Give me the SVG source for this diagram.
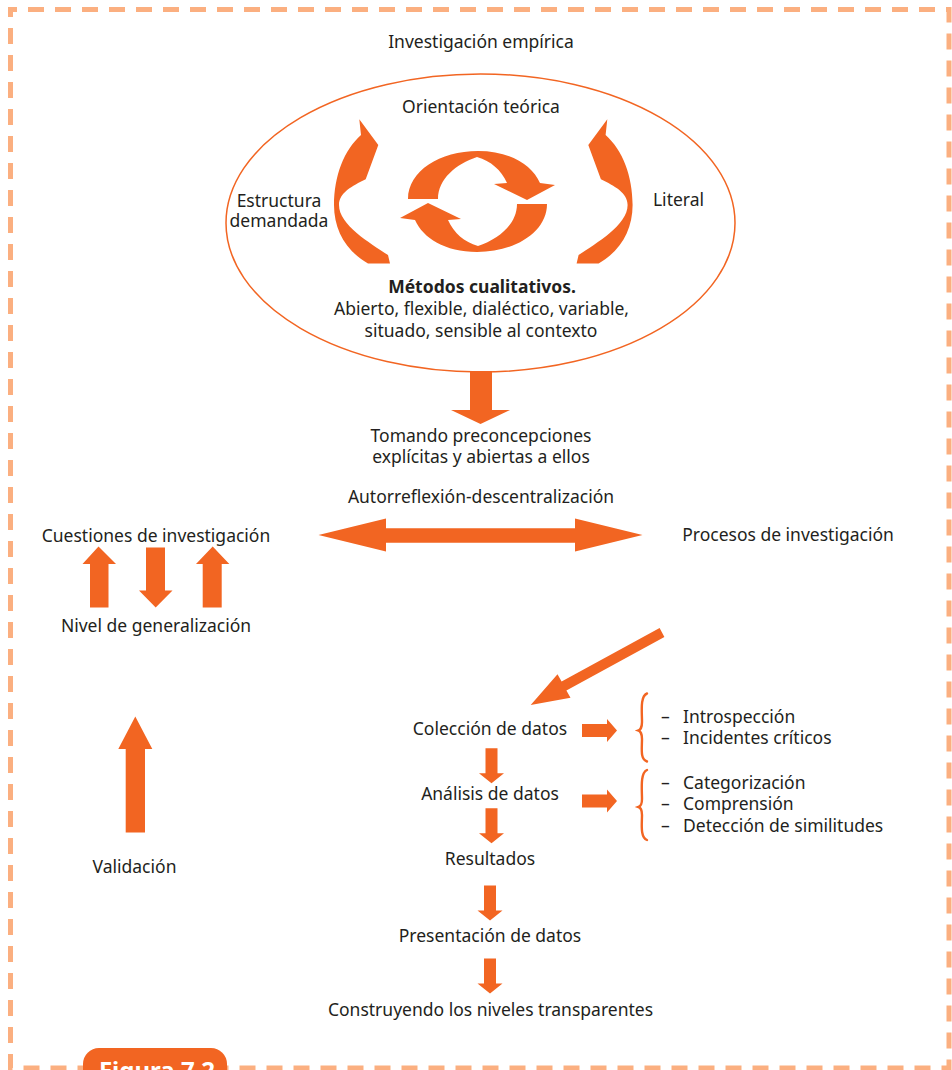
<svg xmlns="http://www.w3.org/2000/svg" width="952" height="1070" viewBox="0 0 952 1070">
  <style>
    text { font-family: "Noto Sans", "Open Sans", "DejaVu Sans", sans-serif; font-size: 17.5px; fill: #231f20; }
    .c { text-anchor: middle; }
    .b { font-weight: bold; }
    .arrow { fill: #f26522; }
    .brace { fill: none; stroke: #f26522; stroke-width: 2.4; stroke-linecap: round; }
  </style>
  <defs>
    <!-- crescent arrow, left-hand version -->
    <path id="crescent" d="M359.3,119.3 L378.3,145 L365.7,179.3 C352,186 339,193 339,205 C339,225 370,243 388,255 L390,263.5 L368,263.5 C346,251 334,230 334,205 C334,176 344,150 361,135 Z"/>
    <!-- half of the circular pair of arrows -->
    <path id="halfcircle" d="M408,199 C408,171 440,151 478,151 C510,151 532,165 540,183 L555,185 L527,200 L494,184 L507,183 C501,170 491,161 477,157 C456,164 438,179 438,199 Z"/>
    <!-- short block arrow pointing down -->
    <path id="down" d="M-6,0 H6 V25 H12.5 L0,35 L-12.5,25 H-6 Z"/>
    <!-- short block arrow pointing right -->
    <path id="right" d="M0,-6.5 H25 V-11.5 L35,0 L25,11.5 V6.5 H0 Z"/>
  </defs>

  <!-- dashed frame -->
  <rect x="10.5" y="9.5" width="938.5" height="1058.5" fill="none" stroke="#fbaf80" stroke-width="5" stroke-dasharray="16 11" stroke-dashoffset="9.5"/>

  <g id="figure-tab">
    <rect x="83" y="1048" width="144" height="50" rx="16" fill="#f26522"/>
    <text x="157" y="1079" class="c b" style="font-size:24px;fill:#ffffff">Figura 7.2</text>
  </g>

  <g id="investigacion-empirica">
    <text x="481" y="48" class="c">Investigación empírica</text>
  </g>

  <g id="metodos-cualitativos">
    <ellipse cx="480.5" cy="223" rx="254.5" ry="149" fill="none" stroke="#f26522" stroke-width="1.5"/>
    <text x="481" y="113" class="c">Orientación teórica</text>
    <text x="279" y="206.5" class="c">Estructura</text>
    <text x="279" y="227" class="c">demandada</text>
    <text x="678.5" y="206" class="c">Literal</text>
    <text x="482" y="293" class="c b">Métodos cualitativos.</text>
    <text x="481.5" y="315" class="c">Abierto, flexible, dialéctico, variable,</text>
    <text x="481" y="337" class="c">situado, sensible al contexto</text>
    <use href="#crescent" class="arrow"/>
    <use href="#crescent" class="arrow" transform="translate(966.6,0) scale(-1,1)"/>
    <use href="#halfcircle" class="arrow"/>
    <use href="#halfcircle" class="arrow" transform="rotate(180 477.5 201.5)"/>
  </g>

  <g id="preconcepciones">
    <text x="481" y="442" class="c">Tomando preconcepciones</text>
    <text x="481" y="463" class="c">explícitas y abiertas a ellos</text>
  </g>

  <g id="autorreflexion">
    <text x="481" y="503" class="c">Autorreflexión-descentralización</text>
  </g>

  <g id="cuestiones">
    <text x="156" y="542" class="c">Cuestiones de investigación</text>
  </g>

  <g id="procesos">
    <text x="788" y="541" class="c">Procesos de investigación</text>
  </g>

  <g id="nivel-generalizacion">
    <text x="156" y="632" class="c">Nivel de generalización</text>
  </g>

  <g id="validacion">
    <text x="134.5" y="873" class="c">Validación</text>
  </g>

  <g id="coleccion">
    <text x="490" y="735" class="c">Colección de datos</text>
  </g>

  <g id="analisis">
    <text x="490" y="800" class="c">Análisis de datos</text>
  </g>

  <g id="resultados">
    <text x="490" y="865" class="c">Resultados</text>
  </g>

  <g id="presentacion">
    <text x="490" y="942" class="c">Presentación de datos</text>
  </g>

  <g id="niveles-transparentes">
    <text x="490.5" y="1016" class="c">Construyendo los niveles transparentes</text>
  </g>

  <g id="coleccion-items">
    <path class="brace" d="M647,693.5 C640,696 642,712 642,722 C642,727 640,730 638.5,730.5 C640,731 642,734 642,739 C642,749 640,759 647,761.5"/>
    <text x="661" y="723">–</text>
    <text x="683" y="723">Introspección</text>
    <text x="661" y="744">–</text>
    <text x="683" y="744">Incidentes críticos</text>
  </g>

  <g id="analisis-items">
    <path class="brace" d="M647,770 C640,773 642,790 642,799 C642,804 640,806.5 638.5,807 C640,807.5 642,810 642,815 C642,824 640,837 647,840"/>
    <text x="661" y="788.5">–</text>
    <text x="683" y="788.5">Categorización</text>
    <text x="661" y="810">–</text>
    <text x="683" y="810">Comprensión</text>
    <text x="661" y="831.5">–</text>
    <text x="683" y="831.5">Detección de similitudes</text>
  </g>

  <g id="connectors" class="arrow">
    <!-- ellipse down to preconceptions -->
    <path d="M470,371 H492 V410 H510 L480.5,424 L451,410 H470 Z"/>
    <!-- two-way arrow -->
    <path d="M318.5,535 L386,518.5 V528.3 H575 V518.5 L642.5,535 L575,551.5 V542.7 H386 V551.5 Z"/>
    <!-- research questions and generalization level -->
    <path d="M90,607.5 V564 H82.5 L98.5,546.5 L116,564 H108.5 V607.5 Z"/>
    <path d="M146,547.5 H165 V590.5 H172.5 L155.7,607.5 L139,590.5 H146 Z"/>
    <path d="M202.7,607.5 V564 H196 L212.7,546.5 L229.3,564 H221.7 V607.5 Z"/>
    <!-- validation -->
    <path d="M125.7,832.5 V749 H118.3 L135.3,716.5 L152.3,749 H145 V832.5 Z"/>
    <!-- process to data collection -->
    <path d="M659.6,628.1 L664.4,636.9 L566.4,690.4 L570.5,697.8 L530.7,705 L557.5,674.2 L561.6,681.6 Z"/>
    <!-- data chain -->
    <use href="#down" x="491.5" y="748.3"/>
    <use href="#down" x="491.5" y="808.3"/>
    <use href="#down" x="490" y="885.5"/>
    <use href="#down" x="490" y="958.5"/>
    <!-- towards the item lists -->
    <use href="#right" x="582" y="730.5"/>
    <use href="#right" x="582" y="801"/>
  </g>
</svg>
